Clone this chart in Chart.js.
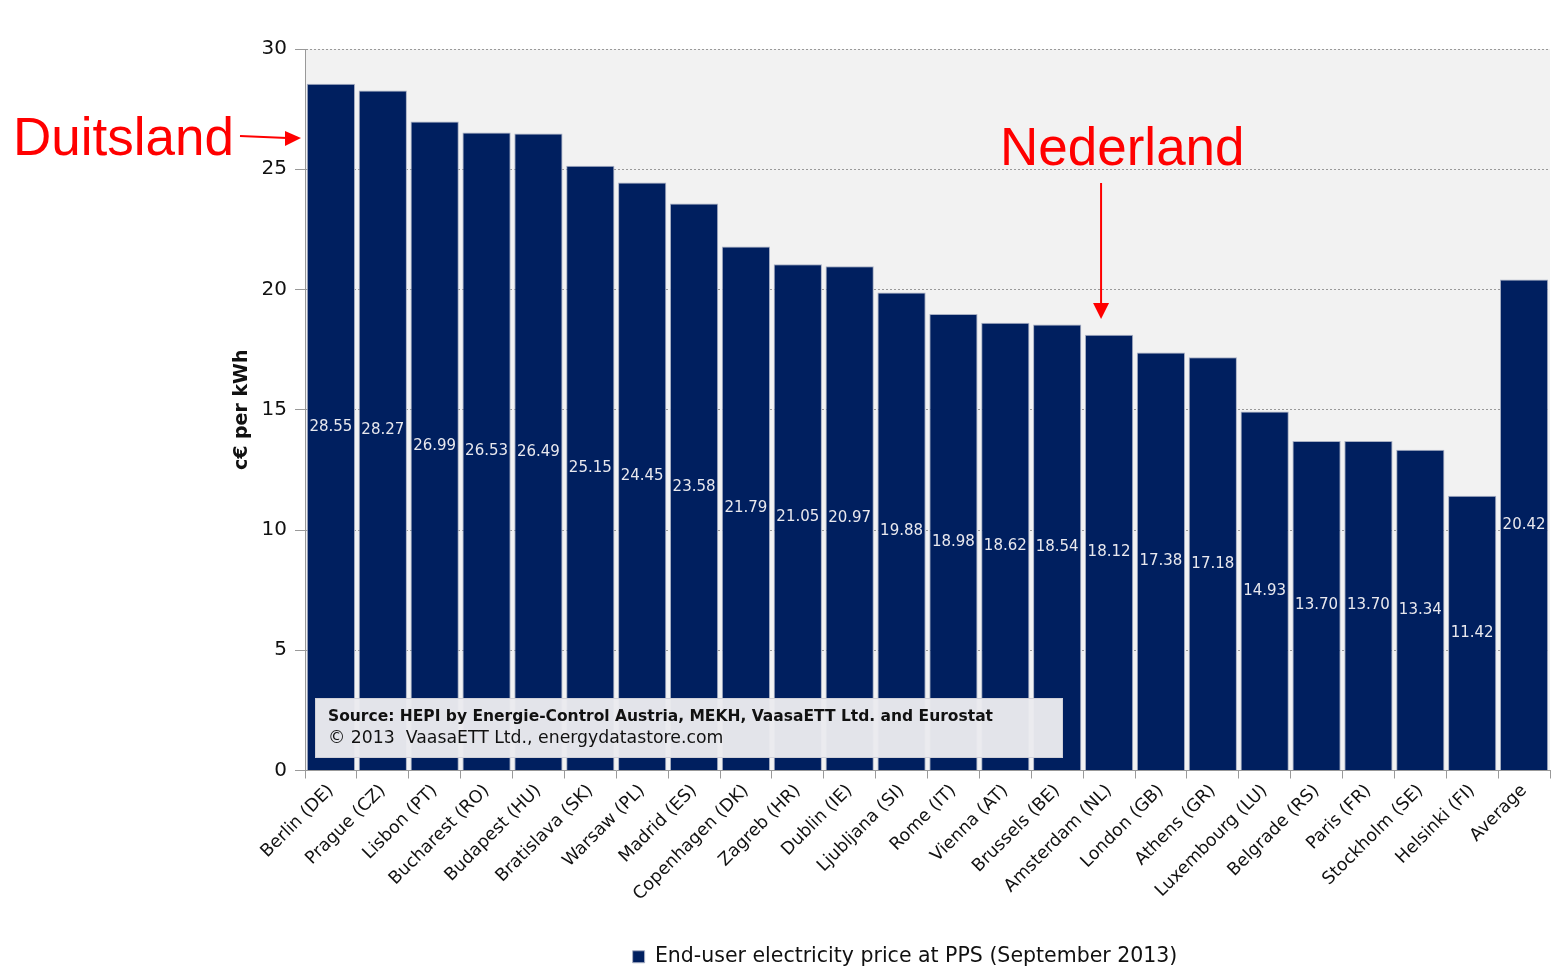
<!DOCTYPE html>
<html>
<head>
<meta charset="utf-8">
<script src="https://cdn.jsdelivr.net/npm/chart.js@4"></script>
<style>
  html, body { margin: 0; padding: 0; background: #fff; }
  #wrap { width: 1555px; height: 966px; position: relative; }
</style>
</head>
<body>
<div id="wrap"><canvas id="priceChart" width="1555" height="966"></canvas></div>
<script>
const cities = [
  "Berlin (DE)", "Prague (CZ)", "Lisbon (PT)", "Bucharest (RO)", "Budapest (HU)",
  "Bratislava (SK)", "Warsaw (PL)", "Madrid (ES)", "Copenhagen (DK)", "Zagreb (HR)",
  "Dublin (IE)", "Ljubljana (SI)", "Rome (IT)", "Vienna (AT)", "Brussels (BE)",
  "Amsterdam (NL)", "London (GB)", "Athens (GR)", "Luxembourg (LU)", "Belgrade (RS)",
  "Paris (FR)", "Stockholm (SE)", "Helsinki (FI)", "Average"
];
const prices = [
  28.55, 28.27, 26.99, 26.53, 26.49, 25.15, 24.45, 23.58, 21.79, 21.05,
  20.97, 19.88, 18.98, 18.62, 18.54, 18.12, 17.38, 17.18, 14.93, 13.70,
  13.70, 13.34, 11.42, 20.42
];
const yTicks = [0, 5, 10, 15, 20, 25, 30];

const seriesName = "End-user electricity price at PPS (September 2013)";
const navy = "#001f5f";
const font = "'DejaVu Sans', Verdana, sans-serif";

// grey plot background
const plotBg = {
  id: "plotBg",
  beforeDraw(chart) {
    const { ctx, chartArea: a } = chart;
    ctx.save();
    ctx.fillStyle = "#f2f2f2";
    ctx.fillRect(a.left, a.top, a.right - a.left, a.bottom - a.top);
    ctx.restore();
  }
};

// value labels in the middle of each bar
const barLabels = {
  id: "barLabels",
  afterDatasetsDraw(chart) {
    const { ctx } = chart;
    const meta = chart.getDatasetMeta(0);
    ctx.save();
    ctx.font = "15px " + font;
    ctx.fillStyle = "#e8e8ee";
    ctx.textAlign = "center";
    ctx.textBaseline = "middle";
    meta.data.forEach((bar, i) => {
      const mid = (bar.y + bar.base) / 2;
      ctx.fillText(prices[i].toFixed(2), bar.x, mid);
    });
    ctx.restore();
  }
};

// source box + red annotations
const extras = {
  id: "extras",
  afterDraw(chart) {
    const { ctx } = chart;
    const meta = chart.getDatasetMeta(0);
    ctx.save();

    // source box
    ctx.fillStyle = "rgba(234,234,238,0.97)";
    ctx.fillRect(315, 698, 747, 59);
    ctx.strokeStyle = "#d0d0d8";
    ctx.lineWidth = 1;
    ctx.strokeRect(315.5, 698.5, 747, 59);
    ctx.fillStyle = "#111";
    ctx.textAlign = "left";
    ctx.textBaseline = "middle";
    ctx.font = "bold 15.5px " + font;
    ctx.fillText("Source: HEPI by Energie-Control Austria, MEKH, VaasaETT Ltd. and Eurostat", 328, 717);
    ctx.font = "17.3px " + font;
    ctx.fillText("\u00a9 2013  VaasaETT Ltd., energydatastore.com", 328, 739);

    // red annotations
    ctx.fillStyle = "#ff0000";
    ctx.strokeStyle = "#ff0000";
    ctx.lineWidth = 2;
    ctx.font = "53px 'Liberation Sans', Arial, sans-serif";
    ctx.textBaseline = "alphabetic";
    ctx.fillText("Duitsland", 13, 155);
    ctx.fillText("Nederland", 1000, 165);

    // Duitsland arrow
    const ax = chart.chartArea.left - 4;
    ctx.beginPath();
    ctx.moveTo(240, 136);
    ctx.lineTo(ax - 14, 138);
    ctx.stroke();
    ctx.beginPath();
    ctx.moveTo(ax, 138);
    ctx.lineTo(ax - 16, 131);
    ctx.lineTo(ax - 16, 146);
    ctx.closePath();
    ctx.fill();

    // Nederland arrow, over Amsterdam bar
    const nl = meta.data[cities.indexOf("Amsterdam (NL)")];
    const nx = nl.x - 8;
    ctx.beginPath();
    ctx.moveTo(nx, 183);
    ctx.lineTo(nx, 304);
    ctx.stroke();
    ctx.beginPath();
    ctx.moveTo(nx, 319);
    ctx.lineTo(nx - 8, 303);
    ctx.lineTo(nx + 8, 303);
    ctx.closePath();
    ctx.fill();

    ctx.restore();
  }
};

const ctx = document.getElementById("priceChart").getContext("2d");
new Chart(ctx, {
  type: "bar",
  data: {
    labels: cities,
    datasets: [{
      label: seriesName,
      data: prices,
      backgroundColor: navy,
      borderColor: "#a8b0c4",
      borderWidth: 1,
      barPercentage: 1,
      categoryPercentage: 0.93
    }]
  },
  options: {
    responsive: false,
    animation: false,
    layout: { padding: { left: 260, right: 5, top: 49, bottom: -11 } },
    scales: {
      y: {
        min: 0,
        max: 30,
        afterBuildTicks(scale) {
          scale.ticks = yTicks.map(v => ({ value: v }));
        },
        afterFit(scale) { scale.width = 45; },
        border: { display: true, color: "#999", width: 1, dash: [2, 2] },
        grid: {
          color: "#9a9a9a",
          tickBorderDash: [],
          tickColor: "#999",
          tickLength: 10
        },
        ticks: {
          color: "#111",
          padding: 8,
          font: { family: font, size: 20 }
        },
        title: {
          display: true,
          text: "c\u20ac per kWh",
          color: "#111",
          padding: { top: -29, bottom: 0 },
          font: { family: font, size: 19, weight: "bold" }
        }
      },
      x: {
        afterFit(scale) { scale.height = 174; },
        border: { display: true, color: "#999", width: 1 },
        grid: {
          drawOnChartArea: false,
          offset: true,
          tickColor: "#999",
          tickLength: 8
        },
        ticks: {
          color: "#111",
          minRotation: 45,
          maxRotation: 45,
          autoSkip: false,
          padding: 2,
          font: { family: font, size: 17.5 }
        }
      }
    },
    plugins: {
      legend: {
        position: "bottom",
        labels: {
          color: "#111",
          boxWidth: 12,
          boxHeight: 12,
          padding: 2,
          font: { family: font, size: 20.5 }
        }
      },
      tooltip: { enabled: false }
    }
  },
  plugins: [plotBg, barLabels, extras]
});
</script>
</body>
</html>
